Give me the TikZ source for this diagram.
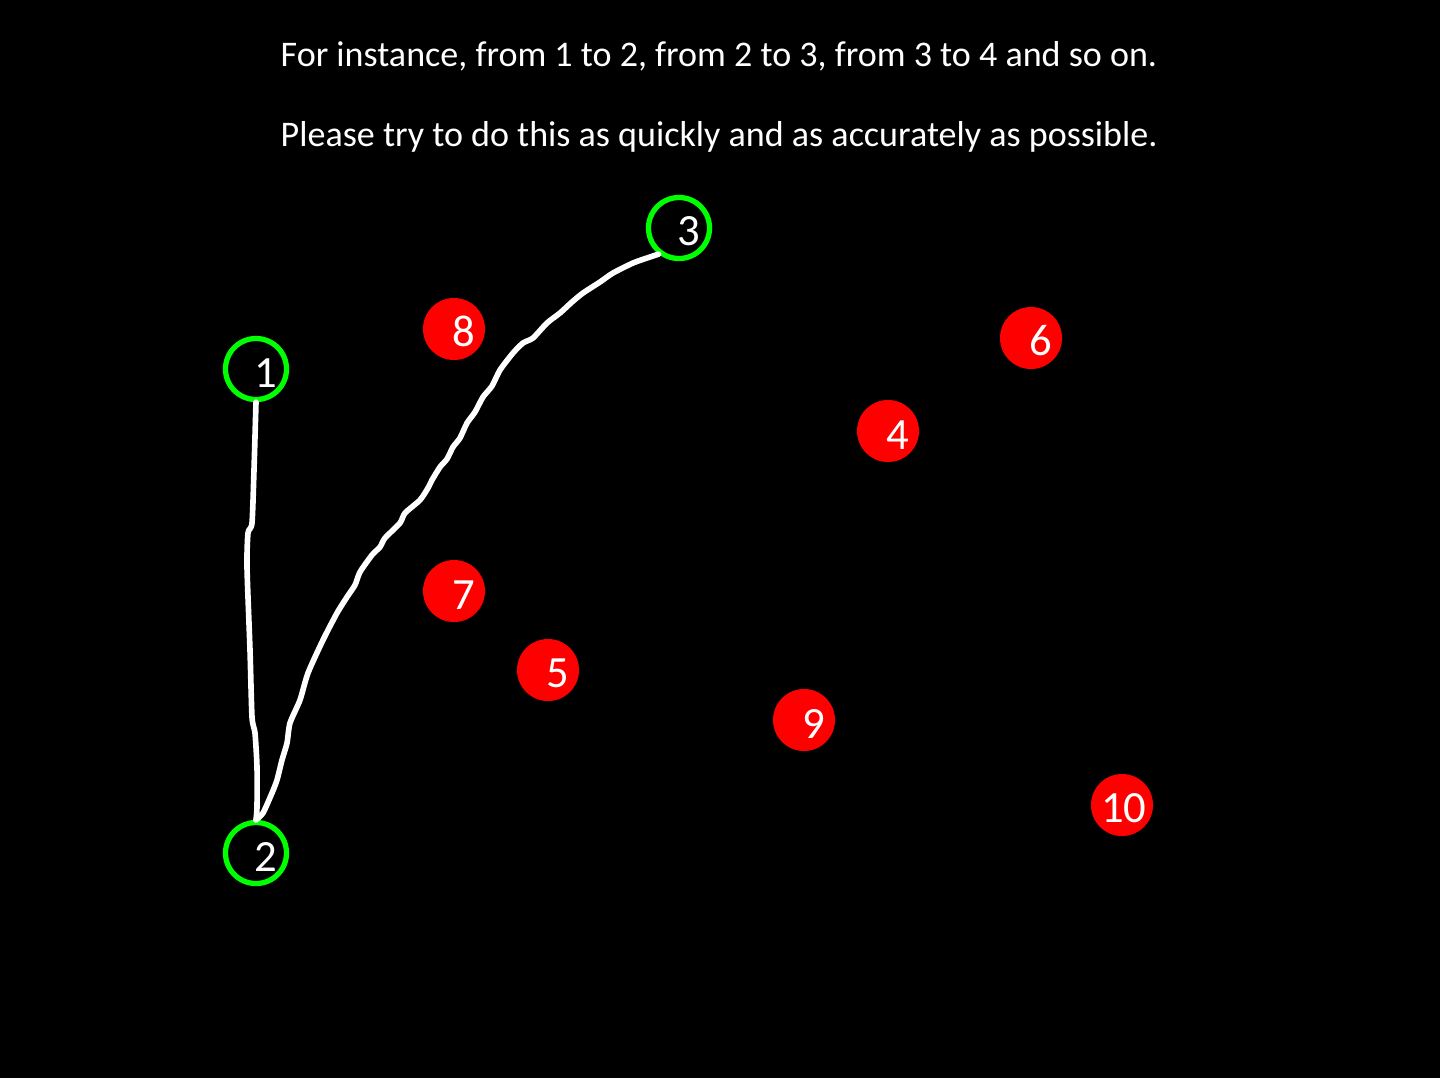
\documentclass[tikz,border=0pt]{standalone}
\usepackage{fontspec}
\setmainfont{Carlito}
\usetikzlibrary{positioning}
\definecolor{ringgreen}{HTML}{00FF00}
\definecolor{spotred}{HTML}{FF0000}

\begin{document}
\begin{tikzpicture}[x=0.01cm,y=-0.01cm,
  every node/.style={text=white},
  dot/.style={circle,inner sep=0pt,text width=0.42cm,align=right,
              text height=10.3pt,font=\fontsize{12.7}{14}\selectfont},
  ring/.style={dot,draw=ringgreen,line width=1.5pt,minimum size=0.61cm},
  spot/.style={dot,fill=spotred,minimum size=0.62cm},
  scribble/.style={draw=white,line width=1.6pt,line cap=round,line join=round},
  caption/.style={anchor=base west,inner sep=0pt,font=\fontsize{10.25}{12}\selectfont}]
  \fill[black] (0,0) rectangle (1440,1078);
  % instructions
  \node[caption] (L1) at (280,66) {For instance, from 1 to 2, from 2 to 3, from 3 to 4 and so on.};
  \node[caption] (L2) at (280,146) {Please try to do this as quickly and as accurately as possible.};
  % targets
  \node[ring] (c1) at (256,369) {1};
  \node[ring] (c2) at (256,853) {2};
  \node[ring] (c3) at (679,228) {3};
  \node[spot] (c4) at (888,431) {4};
  \node[spot] (c5) at (548,670) {5};
  \node[spot] (c6) at (1031,338) {6};
  \node[spot] (c7) at (454,591) {7};
  \node[spot] (c8) at (454,329) {8};
  \node[spot] (c9) at (804,720) {9};
  \node[spot] (c10) at (1122,805) {10};
  % traced route
  \draw[scribble] plot[smooth,tension=0.4] coordinates {(c1.south) (254,470)
    (252,523) (248,533) (247,567) (250,650) (252,717) (255,733) (257,767)
    (257,807) (c2.north)};
  \draw[scribble] plot[smooth,tension=0.4] coordinates {(c2.north) (263,813)
    (272,793) (277,780) (282,760) (287,743) (290,723) (300,700) (308,673)
    (323,640) (337,613) (347,597) (355,585) (360,572) (372,555) (380,547)
    (385,538) (400,523) (405,513) (420,500) (428,488) (432,480) (440,467)
    (447,459) (453,447) (460,438) (467,423) (475,412) (483,397) (492,386)
    (500,370) (513,353) (523,343) (533,338) (547,323) (560,313) (572,302)
    (583,293) (600,282) (613,273) (633,263) (647,258) (c3.232)};
\end{tikzpicture}
\end{document}
